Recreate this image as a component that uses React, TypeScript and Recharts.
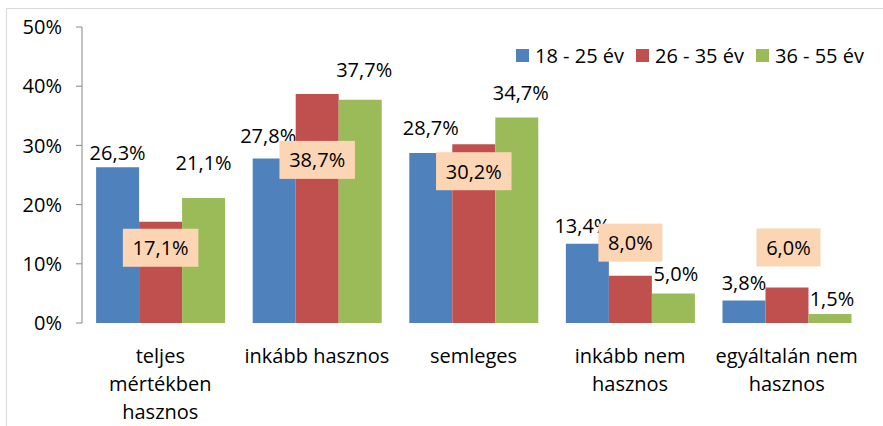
import { BarChart, Bar, XAxis, YAxis, Legend, LabelList } from 'recharts';

const categories = [
  'teljes\nmértékben\nhasznos',
  'inkább hasznos',
  'semleges',
  'inkább nem\nhasznos',
  'egyáltalán nem\nhasznos',
];
const age18to25 = [26.3, 27.8, 28.7, 13.4, 3.8];
const age26to35 = [17.1, 38.7, 30.2, 8.0, 6.0];
const age36to55 = [21.1, 37.7, 34.7, 5.0, 1.5];
const seriesNames = ['18 - 25 év', '26 - 35 év', '36 - 55 év'];
const yTicks = [0, 10, 20, 30, 40, 50];

const COLORS = ['#4F81BD', '#C0504D', '#9BBB59'];
const FONT = '"Open Sans", sans-serif';
const FS = 20;

// manual label placement, as in the original (dy = center offset from bar top)
const blueDy = [-15, -23, -26, -18, -18];
const blueDx = [0, -6, 0, -5, 0];
const redDy = [26, 66, 27, -33, -40];
const redDx = [0, 0, 0, 0, 1.5];
const greenDy = [-36, -30, -25, -20, -16];
const greenDx = [0, 4, 4, 2.5, 2];

const data = categories.map((name, i) => ({
  name,
  a: age18to25[i],
  b: age26to35[i],
  c: age36to55[i],
}));

const fmt = (v: number) => `${v.toFixed(1).replace('.', ',')}%`;

function makeLabel(dxs: number[], dys: number[], boxed: boolean) {
  return (props: any) => {
    const { x, y, width, value, index } = props;
    const cx = Number(x) + Number(width) / 2 + dxs[index];
    const cy = Number(y) + dys[index];
    const text = fmt(Number(value));
    const bw = text.length * 11.5 + 18;
    return (
      <g>
        {boxed && <rect x={cx - bw / 2} y={cy - 19} width={bw} height={38} fill="#FCD5B4" />}
        <text x={cx} y={cy} textAnchor="middle" dominantBaseline="central" fontFamily={FONT} fontSize={FS} fill="#000">
          {text}
        </text>
      </g>
    );
  };
}

function CategoryTick(props: any) {
  const { x, y, payload } = props;
  const lines = String(payload.value).split('\n');
  return (
    <text x={x} y={y} textAnchor="middle" fontFamily={FONT} fontSize={FS} fill="#000">
      {lines.map((l, i) => (
        <tspan key={i} x={x} dy={i === 0 ? 32 : 28}>{l}</tspan>
      ))}
    </text>
  );
}

function LegendContent() {
  return (
    <div style={{ display: 'flex', alignItems: 'center', fontFamily: FONT, fontSize: FS, color: '#000', whiteSpace: 'nowrap' }}>
      {seriesNames.map((n, i) => (
        <span key={n} style={{ display: 'flex', alignItems: 'center', marginRight: 12 }}>
          <span style={{ width: 13, height: 13, background: COLORS[i], marginRight: 6, display: 'inline-block' }} />
          {n}
        </span>
      ))}
    </div>
  );
}

export default function App() {
  return (
    <div style={{ position: 'absolute', left: 0, top: 0, width: 883, height: 426, background: '#fff', overflow: 'hidden' }}>
      <div style={{ position: 'absolute', left: 6, top: 8, width: 900, height: 440, border: '1px solid #D9D9D9' }} />
      <BarChart
        width={883}
        height={426}
        data={data}
        margin={{ top: 27, right: 18, bottom: 0, left: 0 }}
        barCategoryGap="9%"
        barGap={0}
      >
        <XAxis
          xAxisId="edges"
          type="number"
          domain={[0, 5]}
          ticks={[0, 1, 2, 3, 4, 5]}
          tick={false}
          height={0}
          axisLine={{ stroke: '#868686' }}
          tickLine={{ stroke: '#868686' }}
          tickSize={6}
        />
        <XAxis
          dataKey="name"
          height={103}
          axisLine={false}
          tickLine={false}
          tick={<CategoryTick />}
          interval={0}
        />
        <YAxis
          domain={[0, 50]}
          ticks={yTicks}
          width={82}
          tickFormatter={(v: any) => `${v}%`}
          axisLine={{ stroke: '#868686' }}
          tickLine={{ stroke: '#868686' }}
          tickSize={6}
          tickMargin={14}
          tick={{ fontFamily: FONT, fontSize: FS, fill: '#000' }}
        />
        <Legend
          layout="horizontal"
          verticalAlign="middle"
          align="center"
          content={<LegendContent />}
          wrapperStyle={{ left: 516, top: 42, width: 'auto', height: 'auto' }}
        />
        <Bar dataKey="a" name={seriesNames[0]} fill={COLORS[0]} isAnimationActive={false}>
          <LabelList dataKey="a" content={makeLabel(blueDx, blueDy, false)} />
        </Bar>
        <Bar dataKey="b" name={seriesNames[1]} fill={COLORS[1]} isAnimationActive={false}>
          <LabelList dataKey="b" content={makeLabel(redDx, redDy, true)} />
        </Bar>
        <Bar dataKey="c" name={seriesNames[2]} fill={COLORS[2]} isAnimationActive={false}>
          <LabelList dataKey="c" content={makeLabel(greenDx, greenDy, false)} />
        </Bar>
      </BarChart>
    </div>
  );
}
